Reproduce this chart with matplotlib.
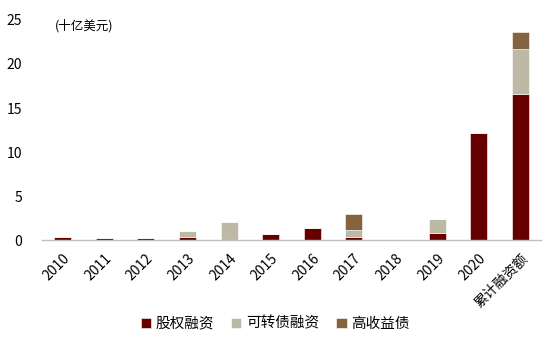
import matplotlib
matplotlib.use("Agg")
import matplotlib.pyplot as plt
import numpy as np

plt.rcParams["font.family"] = ["Noto Sans CJK SC", "DejaVu Sans"]

categories = ["2010", "2011", "2012", "2013", "2014", "2015", "2016",
              "2017", "2018", "2019", "2020", "累计融资额"]
equity = [0.3, 0.2, 0.2, 0.4, 0.0, 0.7, 1.4, 0.3, 0.0, 0.8, 12.2, 16.6]
convertible = [0.0, 0.0, 0.0, 0.6, 2.0, 0.0, 0.0, 0.85, 0.0, 1.6, 0.0, 5.1]
high_yield = [0.0, 0.0, 0.0, 0.0, 0.0, 0.0, 0.0, 1.85, 0.0, 0.0, 0.0, 1.9]

series = [
    ("股权融资", equity, "#660000"),
    ("可转债融资", convertible, "#BCBAA7"),
    ("高收益债", high_yield, "#846440"),
]

fig = plt.figure(figsize=(5.5, 3.44), dpi=100)
ax = fig.add_axes([0.076, 0.302, 0.908, 0.640])

x = np.arange(len(categories))
bottom = np.zeros(len(categories))
for name, vals, color in series:
    vals = np.array(vals)
    ax.bar(x, vals, width=0.41, bottom=bottom, color=color,
           edgecolor="white", linewidth=0.4, label=name)
    bottom += vals

ax.set_xlim(-0.5, 11.5)
ax.set_ylim(0, 25)
ax.set_yticks([0, 5, 10, 15, 20, 25])
ax.tick_params(axis="y", length=0, labelsize=10, pad=14)
ax.tick_params(axis="x", length=0, labelsize=10, pad=8)
ax.set_xticks(x)
ax.set_xticklabels(categories, rotation=45, ha="right", rotation_mode="anchor")

for side in ["top", "right", "left"]:
    ax.spines[side].set_visible(False)
ax.spines["bottom"].set_color("#BFBFBF")
ax.spines["bottom"].set_linewidth(1.0)

ax.text(0.026, 0.975, "(十亿美元)", transform=ax.transAxes, fontsize=9,
        va="center", ha="left")

fig.legend(loc="lower center", bbox_to_anchor=(0.5, 0.0), ncol=3,
           frameon=False, fontsize=10.5, handlelength=0.7, handleheight=0.7,
           handletextpad=0.3, columnspacing=1.2)

fig.savefig("out.png", dpi=100)
